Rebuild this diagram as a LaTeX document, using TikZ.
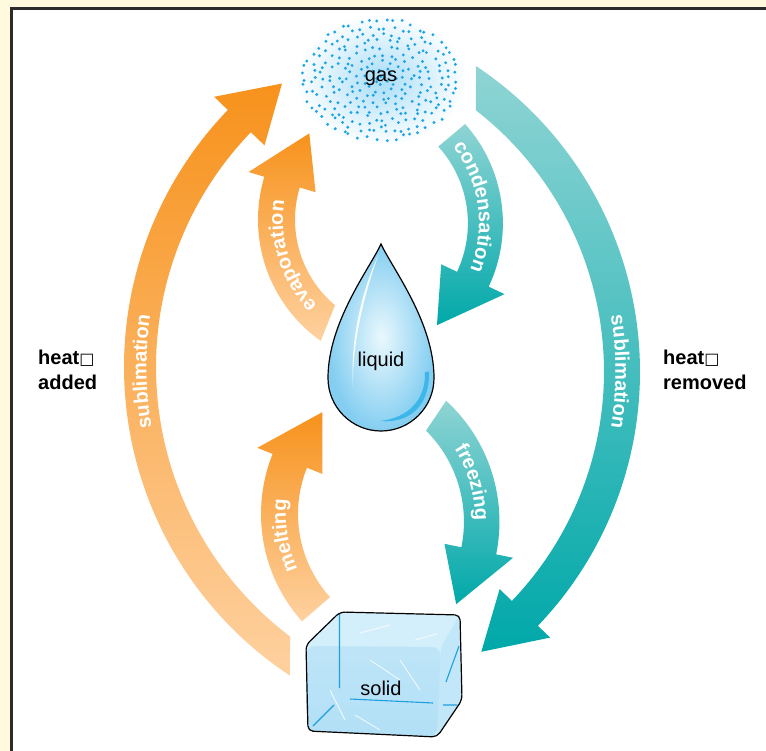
\documentclass[tikz,border=0pt]{standalone}
\usepackage{fontspec}
\setmainfont{Liberation Sans}
\newfontfamily\boxfont{DejaVu Sans}
\usetikzlibrary{decorations.text}
\definecolor{cream}{HTML}{FFF9DD}
\definecolor{framegray}{HTML}{2B2B2B}
\definecolor{warmdark}{HTML}{F7921C}
\definecolor{warmlight}{HTML}{FED1A0}
\definecolor{coollight}{HTML}{8FD4D4}
\definecolor{cooldark}{HTML}{00A8A9}
\definecolor{gasblue}{HTML}{1EA4E4}
\definecolor{gasglow}{HTML}{A9DDF7}
\definecolor{dropin}{HTML}{EAF8FD}
\definecolor{dropout}{HTML}{84CEF1}
\definecolor{dropedge}{HTML}{3DB7EA}
\definecolor{icetop}{HTML}{D3EFFB}
\definecolor{icefront}{HTML}{A9DCF5}
\definecolor{iceside}{HTML}{C2E7F8}
\definecolor{iceline}{HTML}{1E9FDF}
\tikzset{warm/.style={top color=warmdark, bottom color=warmlight}, cool/.style={top color=coollight, bottom color=cooldark},
  arrowlabel/.style={decorate, decoration={text along path, text={|\bfseries\fontsize{20}{24}\selectfont|#1}, text align=center, text color=white}},
  state/.style={font=\fontsize{20}{24}\selectfont, inner sep=0pt}, heat/.style={font=\fontsize{20}{25}\selectfont\bfseries, align=left, anchor=west, inner sep=0pt},
  gasdot/.style={fill=gasblue}, outline/.style={draw=black, line width=1.2pt}}
% #1 style, #2 #3 centre, #4 radius, #5 width, #6 #7 tail angles, #8 head angle, #9 tip angle
\newcommand{\bandarrow}[9]{\shade[#1, shift={(#2,#3)}] ({#6}:{#4+#5/2}) arc[start angle=#6, end angle=#8, radius={#4+#5/2}] -- ({#8}:{#4+35}) -- ({#9}:{#4}) -- ({#8}:{#4-35}) -- ({#8}:{#4-#5/2}) arc[start angle=#8, end angle=#7, radius={#4-#5/2}] -- cycle;}
\newcommand{\bandlabel}[5]{\path[shift={(#1,#2)}, arrowlabel=#5] ({#4-45}:{#3-6.5}) arc[start angle={#4-45}, end angle={#4+45}, radius={#3-6.5}];}
\begin{document}
\begin{tikzpicture}[x=1pt, y=-1pt]
    \useasboundingbox (0,0) rectangle (766,751);
    \fill[cream] (0,0) rectangle (766,751);
    \draw[draw=framegray, fill=white, line width=3pt] (11.5,9) rectangle (790,790);

    % heat added
    \bandarrow{warm}{494}{367}{354}{32}{123.5}{127.1}{224}{233.2}
    \bandlabel{494}{367}{354}{179.3}{sublimation}
    \bandarrow{warm}{406.5}{219.7}{130}{37}{125.3}{129.9}{196.8}{221.6}
    \bandlabel{406.5}{219.7}{130}{162.5}{evaporation}
    \bandarrow{warm}{422}{514}{142.5}{37}{138.2}{137.9}{201.9}{225.6}
    \bandlabel{422}{514}{142.5}{171}{melting}

    % heat removed
    \bandarrow{cool}{353.8}{223.2}{131.6}{35}{-41.7}{-42.2}{25.2}{50.8}
    \bandlabel{353.8}{223.2}{131.6}{-8}{condensation}
    \bandarrow{cool}{335.7}{521.7}{146}{35.5}{-47.6}{-45.2}{11.5}{34.4}
    \bandlabel{335.7}{521.7}{146}{-16}{freezing}
    \bandarrow{cool}{273}{371.8}{349}{36}{-56.4}{-52.2}{43.8}{53.35}
    \bandlabel{273}{371.8}{349}{0}{sublimation}

    % gas cloud
    \shade[inner color=gasglow, outer color=white] (381,80) ellipse [x radius=86, y radius=66];
    \pgfmathsetseed{11}
    \foreach \j in {1,...,9}{
        \pgfmathtruncatemacro{\n}{6*\j}
        \foreach \i in {1,...,\n}{
            \pgfmathsetmacro{\ang}{360/\n*(\i + 0.35*rand) + 23*\j}
            \pgfmathsetmacro{\rad}{(\j-0.35)/9 + 0.035*rand}
            \fill[gasdot] ({381+80*\rad*cos(\ang)},{80+62*\rad*sin(\ang)}) circle (1.6);
        }
    }

    % drop
    \shade[inner color=dropin, outer color=dropout] (381,244) .. controls (392,268) and (434,322) .. (434,378) arc[start angle=0, end angle=180, radius=53] .. controls (328,322) and (370,268) .. (381,244);
    \fill[white, opacity=0.9] (378,256) .. controls (366,290) and (352,340) .. (353,387) .. controls (350,340) and (362,290) .. (378,256);
    \fill[dropedge] (425,372) .. controls (426,400) and (408,418) .. (380,421) .. controls (410,424) and (430,405) .. (429,372);
    \draw[outline] (381,244) .. controls (392,268) and (434,322) .. (434,378) arc[start angle=0, end angle=180, radius=53] .. controls (328,322) and (370,268) .. (381,244) -- cycle;

    % ice cube
    \fill[icetop, rounded corners=5] (308,731) -- (306,645) -- (340,612) -- (460,615) -- (462,700) -- (437,737) -- cycle;
    \fill[iceside, rounded corners=4] (441,647) -- (459,616) -- (461,700) -- (437,736) -- cycle;
    \shade[top color=icefront!75, bottom color=icefront!90, rounded corners=9] (307,731) -- (306,646) -- (441,647) -- (437,737) -- cycle;
    \draw[iceline, line width=1.1pt] (339.5,614) -- (339.5,688) (350,699) -- (433,703) (313,726) -- (334,705) (443,705) -- (457,705) (446,682) -- (459,646);
    \draw[white, line width=0.9pt, opacity=0.8] (360,633) -- (390,625) (415,640) -- (437,634) (370,660) -- (400,680) (400,660) -- (420,690) (330,690) -- (345,720) (355,715) -- (380,730);
    \draw[outline, rounded corners=5] (308,731) -- (306,645) -- (340,612) -- (460,615) -- (462,700) -- (437,737) -- cycle;

    \node[state] (gas) at (381,78) {gas};
    \node[state] (liquid) at (381,361) {liquid};
    \node[state] (solid) at (381,688) {solid};
    \node[heat] (added) at (38,370) {heat{\boxfont\fontsize{16}{16}\selectfont □}\\added};
    \node[heat] (removed) at (663,370) {heat{\boxfont\fontsize{16}{16}\selectfont □}\\removed};
\end{tikzpicture}
\end{document}
